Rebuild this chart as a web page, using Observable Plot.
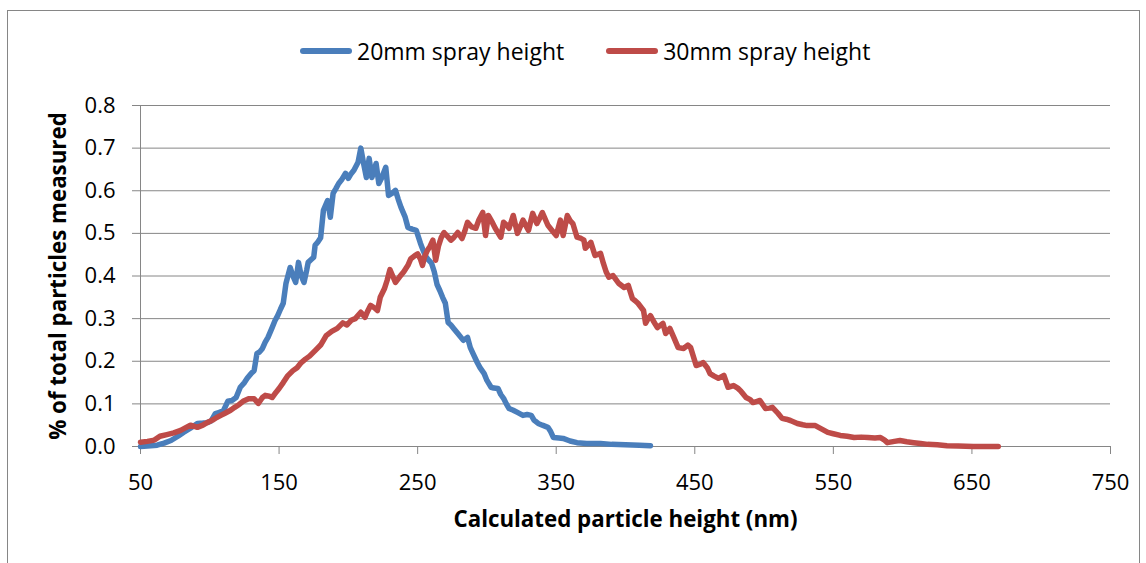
<!DOCTYPE html>
<html><head><meta charset="utf-8">
<script src="https://cdn.jsdelivr.net/npm/d3@7"></script>
<script src="https://cdn.jsdelivr.net/npm/@observablehq/plot@0.6"></script>
<style>
body{margin:0;background:#fff;font-family:"Open Sans",sans-serif;}
#wrap{position:relative;width:1146px;height:563px;overflow:hidden;}
#border{position:absolute;left:7px;top:10px;width:1133px;height:600px;border:1px solid #868686;box-sizing:border-box;}
#legend{position:absolute;top:34px;left:300px;display:flex;align-items:center;font-size:23px;height:34px;color:#000;}
.item{display:flex;align-items:center;margin-right:42px;white-space:nowrap}
.swatch{width:52px;height:5.5px;border-radius:3px;margin-right:5px}
#chart{position:absolute;left:0;top:0}
g[aria-label="x-axis label"] text, g[aria-label="y-axis label"] text {font-weight:bold;font-size:22.3px}
</style>
</head><body>
<div id="wrap"><div id="border"></div><div id="chart"></div><div id="legend"></div></div>
<script>
const seriesNames = ["20mm spray height", "30mm spray height"];
const seriesColors = ["#4A7EBB", "#BE4B48"];
const xTicks = [50, 150, 250, 350, 450, 550, 650, 750];
const yTicks = [0, 0.1, 0.2, 0.3, 0.4, 0.5, 0.6, 0.7, 0.8];

const blueX = [50,55,62,67,72,77,81,86,91,95,98,101,104,107,110,113,116,119,122,125,127,130,132,134,136,138,140,142,145,147,149,151,153,155,158,160,162,164,166,168,170,171,173,175,176,178,180,182,185,187,189,191,193,195,198,200,202,204,207,209,211,213,215,217,220,222,224,227,229,232,234,236,238,241,243,246,249,252,254,256,258,260,262,264,266,268,270,272,274,276,279,283,286,288,290,293,295,298,300,303,305,308,310,312,314,316,319,322,326,329,332,334,337,340,344,346,348,352,355,360,365,372,382,390,400,410,418];
const blueY = [0.0,0.001,0.003,0.008,0.014,0.024,0.033,0.043,0.054,0.055,0.056,0.060,0.077,0.080,0.085,0.106,0.108,0.115,0.139,0.150,0.160,0.172,0.178,0.218,0.222,0.230,0.245,0.256,0.279,0.295,0.307,0.322,0.336,0.383,0.420,0.400,0.385,0.432,0.400,0.385,0.415,0.432,0.438,0.444,0.472,0.480,0.490,0.554,0.577,0.538,0.594,0.605,0.617,0.625,0.641,0.629,0.640,0.648,0.667,0.700,0.664,0.631,0.676,0.631,0.664,0.617,0.630,0.655,0.589,0.595,0.601,0.580,0.561,0.538,0.514,0.510,0.507,0.477,0.460,0.445,0.437,0.430,0.410,0.380,0.366,0.350,0.336,0.291,0.285,0.277,0.265,0.249,0.256,0.232,0.218,0.197,0.185,0.171,0.155,0.139,0.137,0.136,0.122,0.113,0.100,0.089,0.085,0.080,0.073,0.075,0.073,0.062,0.054,0.050,0.045,0.035,0.021,0.020,0.019,0.013,0.009,0.007,0.007,0.005,0.004,0.003,0.002];

const redX = [50,55,60,64,69,74,79,83,86,89,91,95,98,102,105,108,111,115,118,121,124,128,132,135,138,140,143,145,148,150,153,156,160,163,166,169,172,176,180,184,188,192,196,199,202,205,209,212,214,216,219,221,223,226,228,230,232,234,237,240,243,245,248,250,252,253.5,255,257,259,261,263,265,267,269,271,274,276,279,282,284,286,289,292,294,297,299,301,304,306,310,312,314,316,319,322,324,326,330,333,336,338,340,344,347,350,353,355,358,360,362,365,368,370,371,373,375,378,382,384,386,388,391,393,395,399,402,405,407,409,413,414.5,416,418,420,423,427,429,432,435,438,442,445,447,451,454,456,459,461,464,467,471,474,478,481,483,487,490,492,495,497,501,504,506,510,513,516,519,524,528,531,537,541,546,550,555,560,565,570,575,580,584,587,589,594,598,603,608,613,618,625,632,640,651,660,669];
const redY = [0.010,0.012,0.015,0.024,0.028,0.032,0.038,0.045,0.050,0.047,0.045,0.050,0.056,0.062,0.068,0.073,0.078,0.085,0.092,0.098,0.106,0.112,0.112,0.101,0.115,0.120,0.118,0.115,0.128,0.136,0.150,0.165,0.178,0.185,0.197,0.205,0.212,0.225,0.238,0.260,0.270,0.277,0.290,0.285,0.296,0.300,0.315,0.303,0.318,0.331,0.325,0.319,0.350,0.370,0.390,0.415,0.400,0.385,0.398,0.410,0.425,0.440,0.448,0.452,0.440,0.425,0.445,0.460,0.470,0.484,0.437,0.470,0.490,0.502,0.495,0.484,0.490,0.502,0.488,0.505,0.526,0.515,0.512,0.530,0.549,0.495,0.542,0.525,0.512,0.491,0.526,0.520,0.512,0.542,0.500,0.515,0.531,0.507,0.547,0.523,0.535,0.549,0.519,0.507,0.495,0.531,0.495,0.542,0.530,0.523,0.491,0.488,0.484,0.465,0.472,0.479,0.448,0.453,0.430,0.410,0.397,0.401,0.392,0.383,0.373,0.378,0.347,0.342,0.336,0.319,0.289,0.298,0.307,0.295,0.279,0.289,0.265,0.277,0.255,0.232,0.230,0.238,0.232,0.190,0.193,0.197,0.185,0.171,0.165,0.160,0.167,0.139,0.143,0.137,0.131,0.115,0.110,0.103,0.106,0.108,0.089,0.090,0.092,0.078,0.066,0.064,0.061,0.054,0.051,0.049,0.049,0.042,0.033,0.030,0.026,0.024,0.021,0.022,0.021,0.020,0.021,0.015,0.009,0.012,0.014,0.011,0.009,0.007,0.005,0.004,0.002,0.001,0.000,0.000,0.000];

const blue = blueX.map((x, i) => ({x, y: blueY[i]}));
const red = redX.map((x, i) => ({x, y: redY[i]}));

const chart = Plot.plot({
  width: 1146, height: 563,
  marginLeft: 140, marginRight: 36, marginTop: 105, marginBottom: 117,
  style: {fontFamily: "'Open Sans', sans-serif", fontSize: "22px", color: "#000", background: "transparent", overflow: "visible"},
  x: {domain: [50, 750]},
  y: {domain: [0, 0.8]},
  marks: [
    Plot.gridY(yTicks, {stroke: "#868686", strokeOpacity: 1}),
    Plot.ruleX([50], {stroke: "#868686"}),
    Plot.axisY(yTicks, {tickSize: 8, tickPadding: 17, tickFormat: d => d.toFixed(1), stroke: "#868686", fill: "#000",
      label: "% of total particles measured", labelAnchor: "center", labelOffset: 90, labelArrow: "none"}),
    Plot.axisX(xTicks, {tickSize: 8, tickPadding: 20, stroke: "#868686", fill: "#000",
      label: "Calculated particle height (nm)", labelAnchor: "center", labelOffset: 80, labelArrow: "none"}),
    Plot.line(blue, {x: "x", y: "y", stroke: seriesColors[0], strokeWidth: 5.5, strokeLinejoin: "round", strokeLinecap: "round"}),
    Plot.line(red, {x: "x", y: "y", stroke: seriesColors[1], strokeWidth: 5.5, strokeLinejoin: "round", strokeLinecap: "round"})
  ]
});
document.getElementById("chart").appendChild(chart);

const legend = document.getElementById("legend");
seriesNames.forEach((name, i) => {
  const item = document.createElement("div");
  item.className = "item";
  const sw = document.createElement("div");
  sw.className = "swatch";
  sw.style.background = seriesColors[i];
  const t = document.createElement("span");
  t.textContent = name;
  item.appendChild(sw); item.appendChild(t);
  legend.appendChild(item);
});
</script>
</body></html>
